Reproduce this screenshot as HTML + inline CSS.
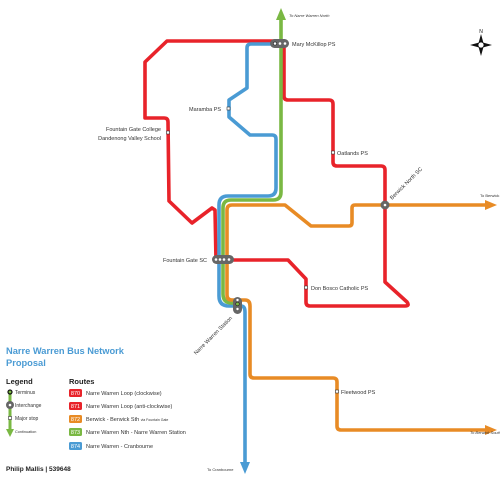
<!DOCTYPE html>
<html><head><meta charset="utf-8"><style>
html,body{margin:0;padding:0;background:#fff}
svg{display:block;font-family:"Liberation Sans",sans-serif}
</style></head><body>
<svg width="500" height="500" viewBox="0 0 500 500">
<g fill="none" stroke-width="3.6" stroke-linejoin="round" stroke-linecap="round">
<path stroke="#e8232a" d="M284,42 L284,96 Q284,100 288,100 L329,100 Q333,100 333,104 L333,162 Q333,166 337,166 L381,166 Q385,166 385,170 L385,282 L407,302 Q410,306 405,306 L310,306 Q306,306 306,302 L306,279 L288,260 L216,260 L215,210 L212,208 L192,223 L169,201 L168,122 Q168,118 164,118 L145,118 L145,62 L167,41 L284,41"/>
<path stroke="#4a9bd4" d="M272,44 L251,44 Q247,44 247,48 L247,88 L229,100 L229,117 L250,135 L272,135 Q276,135 276,139 L276,188 Q276,196 268,196 L228,196 Q219,196 219,205 L219,296 Q219,306 229,306 L241,306 Q245,306 245,312 L245,462"/>
<path stroke="#7ab843" d="M281,20 L281,192 Q281,200 273,200 L231,200 Q223,200 223,208 L223,294 Q223,303 232,303 L237,303"/>
<path stroke="#e88b25" d="M488,205 L355,205 Q352,205 352,208 L352,223 Q352,226 349,226 L311,226 L285,205 L232,205 Q227,205 227,210 L227,295 Q227,300 232,300 L245,300 Q250,300 250,306 L250,374 Q250,378 254,378 L333,378 Q337,378 337,382 L337,426 Q337,430 341,430 L488,430"/>
</g>
<g>
<polygon points="281,8 276,20 286,20" fill="#7ab843"/>
<polygon points="497,205 485,200 485,210" fill="#e88b25"/>
<polygon points="497,430 485,425 485,435" fill="#e88b25"/>
<polygon points="245,474 240,462 250,462" fill="#4a9bd4"/>
</g>
<g>
<rect x="270" y="39" width="19" height="9" rx="4.5" fill="#666"/>
<circle cx="275" cy="43.5" r="1.6" fill="#fff" stroke="#222" stroke-width=".6"/>
<circle cx="280" cy="43.5" r="1.3" fill="#fff"/><circle cx="285" cy="43.5" r="1.3" fill="#fff"/>
<rect x="212" y="255" width="22" height="9" rx="4.5" fill="#666"/>
<circle cx="216" cy="259.5" r="1.3" fill="#fff"/><circle cx="220" cy="259.5" r="1.3" fill="#fff"/>
<circle cx="224" cy="259.5" r="1.3" fill="#fff"/><circle cx="229" cy="259.5" r="1.3" fill="#fff"/>
<rect x="233" y="297" width="9" height="17" rx="4.5" fill="#666"/>
<circle cx="237.5" cy="300" r="1.2" fill="#fff"/><circle cx="237.5" cy="304" r="1.8" fill="#7ab843" stroke="#222" stroke-width=".6"/><circle cx="237.5" cy="309" r="1.2" fill="#fff"/>
<circle cx="385" cy="205" r="4.5" fill="#666"/><circle cx="385" cy="205" r="1.3" fill="#fff"/>
</g>
<g fill="#fff" stroke="#333" stroke-width=".6">
<rect x="227" y="107" width="3" height="3"/><rect x="166.5" y="131" width="3" height="3"/>
<rect x="331.5" y="151" width="3" height="3"/><rect x="304.5" y="286" width="3" height="3"/>
<rect x="335.5" y="390" width="3" height="3"/>
</g>
<g fill="#333" font-size="5.5">
<text x="289" y="17" font-size="4" font-style="italic">To Narre Warren North</text>
<text x="292" y="46">Mary McKillop PS</text>
<text x="189" y="111">Maramba PS</text>
<text x="161" y="131" text-anchor="end">Fountain Gate College</text>
<text x="161" y="140" text-anchor="end">Dandenong Valley School</text>
<text x="337" y="155">Oatlands PS</text>
<text x="392" y="200" transform="rotate(-45 392 200)">Berwick North SC</text>
<text x="480" y="197" font-size="4">To Berwick</text>
<text x="207" y="262" text-anchor="end">Fountain Gate SC</text>
<text x="311" y="290">Don Bosco Catholic PS</text>
<text x="196" y="355" transform="rotate(-45 196 355)">Narre Warren Station</text>
<text x="341" y="394">Fleetwood PS</text>
<text x="470" y="434" font-size="4" font-style="italic">To Berwick South</text>
<text x="207" y="471" font-size="4">To Cranbourne</text>
</g>
<g fill="#111">
<text x="481" y="33" font-size="5" text-anchor="middle">N</text>
<polygon points="481,34 484,45 481,56 478,45" />
<polygon points="470,45 481,42 492,45 481,48"/>
<circle cx="481" cy="45" r="3" fill="#fff" stroke="#111" stroke-width=".8"/>
</g>
<text x="6" y="354" font-size="9.3" font-weight="bold" fill="#4a9bd4">Narre Warren Bus Network</text>
<text x="6" y="366" font-size="9.3" font-weight="bold" fill="#4a9bd4">Proposal</text>
<g>
<text x="6" y="384" font-size="7.5" font-weight="bold" fill="#222">Legend</text>
<line x1="10" y1="392" x2="10" y2="432" stroke="#7ab843" stroke-width="3"/>
<polygon points="10,437 6,429 14,429" fill="#7ab843"/>
<circle cx="10" cy="392" r="2" fill="#7ab843" stroke="#111" stroke-width="1.2"/>
<circle cx="10" cy="405" r="4" fill="#666"/><circle cx="10" cy="405" r="1.3" fill="#fff"/>
<rect x="8.5" y="416.5" width="3" height="3" fill="#fff" stroke="#333" stroke-width=".6"/>
<g font-size="5" fill="#333">
<text x="15" y="394">Terminus</text><text x="15" y="407">Interchange</text>
<text x="15" y="420">Major stop</text><text x="15" y="433" font-size="3.8">Continuation</text>
</g>
</g>
<g font-size="5.5" fill="#333">
<text x="69" y="384" font-size="7.5" font-weight="bold" fill="#222">Routes</text>
<rect x="69" y="389" width="13" height="8" rx="1.5" fill="#e8232a"/><text x="75.5" y="395" fill="#fff" text-anchor="middle">870</text><text x="86" y="395">Narre Warren Loop (clockwise)</text>
<rect x="69" y="402" width="13" height="8" rx="1.5" fill="#e8232a"/><text x="75.5" y="408" fill="#fff" text-anchor="middle">871</text><text x="86" y="408">Narre Warren Loop (anti-clockwise)</text>
<rect x="69" y="415" width="13" height="8" rx="1.5" fill="#e88b25"/><text x="75.5" y="421" fill="#fff" text-anchor="middle">872</text><text x="86" y="421">Berwick - Berwick Sth <tspan font-size="3.5">via Fountain Gate</tspan></text>
<rect x="69" y="428" width="13" height="8" rx="1.5" fill="#7ab843"/><text x="75.5" y="434" fill="#fff" text-anchor="middle">873</text><text x="86" y="434">Narre Warren Nth - Narre Warren Station</text>
<rect x="69" y="442" width="13" height="8" rx="1.5" fill="#4a9bd4"/><text x="75.5" y="448" fill="#fff" text-anchor="middle">874</text><text x="86" y="448">Narre Warren - Cranbourne</text>
</g>
<text x="6" y="471" font-size="6.5" font-weight="bold" fill="#222">Philip Mallis | 539648</text>
</svg>
</body></html>
